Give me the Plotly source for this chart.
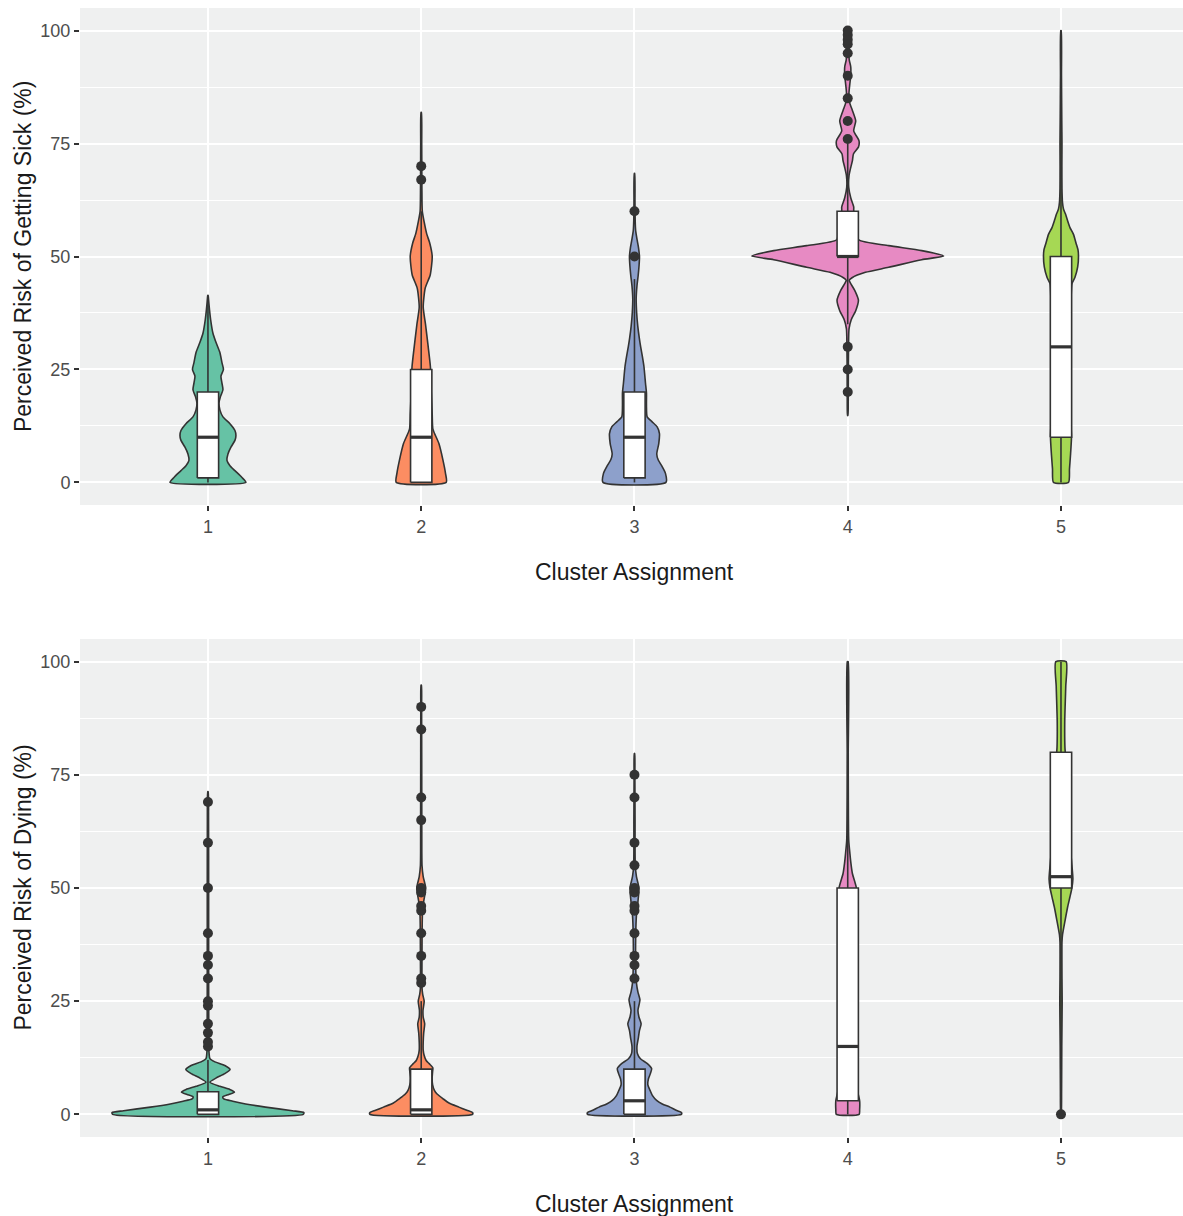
import plotly.graph_objects as go

# ---------------- data ----------------
clusters = [1, 2, 3, 4, 5]
cluster_labels = ["1", "2", "3", "4", "5"]
fill_colors = ["#66C2A5", "#FC8D62", "#8DA0CB", "#E78AC3", "#A6D854"]
y_ticks = [0, 25, 50, 75, 100]
y_minor = [12.5, 37.5, 62.5, 87.5]

# Panel 1: Perceived Risk of Getting Sick -- violin density profiles (value level, relative density)
sick_c1_y = [0, 1.1, 2.6, 3.7, 4.9, 6.3, 7.8, 9.3, 10.4, 11.5, 13, 14.5, 16, 17.5, 19, 20.5, 22, 23.5, 25, 26.5, 28.7, 31, 33, 36, 38.3, 40.5, 41.4]
sick_c1_d = [38, 34, 27, 22, 19, 20, 23, 27, 28, 27, 22, 15, 12, 11, 12.5, 15, 14, 13, 15.5, 14, 12, 8, 5, 2.7, 1.5, 0.6, 0.2]
sick_c2_y = [0, 2, 5, 8.6, 11.8, 15, 20, 25.6, 30, 35, 38.8, 43, 45.9, 50, 53, 55, 57.6, 60, 65, 70, 75, 81.9]
sick_c2_d = [25, 24.3, 21.7, 17.7, 11.7, 11, 10, 9.2, 7, 4.3, 2, 4, 9, 11, 8.5, 5.5, 3, 1.1, 0.7, 0.6, 0.5, 0.2]
sick_c3_y = [0, 2, 3.5, 5, 6.3, 8.6, 10.8, 12.3, 13.4, 14.5, 17, 19.8, 22, 25.6, 28, 30, 32, 34.6, 37.5, 40.6, 43.5, 45.8, 48, 50, 52, 53.5, 55.7, 58, 62, 68.4]
sick_c3_d = [31.5, 31, 27.7, 23.7, 22.3, 24.3, 25, 22.7, 17.7, 12.7, 12, 12, 11, 9.5, 7.8, 6.2, 4.8, 3.3, 2.2, 1.7, 2.5, 3.7, 4.6, 5, 4, 2.8, 1.2, 0.7, 0.5, 0.2]
sick_c4_y = [14.8, 18, 25, 30, 34, 36, 38, 40.3, 42.5, 44, 44.7, 45.3, 46.5, 47.6, 49.3, 50.1, 51.3, 52.4, 53.7, 56, 58, 60.2, 61, 63, 65.3, 67.9, 69.7, 71.2, 72.7, 74.2, 75.6, 77.8, 80, 82.3, 84, 86, 88, 90, 92, 93.5, 95, 97, 100]
sick_c4_d = [0.2, 0.5, 0.6, 0.8, 1.3, 3.5, 8, 10.7, 7, 3, 1.5, 4.3, 17.7, 41, 74, 96, 74, 41, 11, 9, 7.5, 6, 6, 3, 1, 1.3, 3, 4.7, 5.7, 10.7, 11.3, 6, 8, 4.7, 2, 1.2, 2, 3, 3, 1.5, 1.2, 1.5, 2]
sick_c5_y = [0, 3, 6, 10, 15, 20, 25, 30, 35, 40, 44, 45.4, 47.7, 50, 51.5, 53, 54.9, 56.4, 58, 59.3, 60.5, 62, 65, 70, 75, 80, 90, 100]
sick_c5_d = [7.5, 8.5, 9.5, 10.5, 9.5, 9, 9, 9, 9.5, 10, 11, 14, 16.7, 17.5, 17, 15, 12.5, 9, 6.5, 4.7, 2.5, 1.5, 1, 0.9, 1.0, 0.8, 0.5, 0.2]

# Panel 1 box statistics
sick_q1 = [1, 0, 1, 50, 10]
sick_median = [10, 10, 10, 50, 30]
sick_q3 = [20, 25, 20, 60, 50]
sick_lower = [0, 0, 0, 35, 0]
sick_upper = [41, 60, 45, 75, 100]
# Panel 1 outliers
sick_out_c1 = []
sick_out_c2 = [67, 70]
sick_out_c3 = [50, 60]
sick_out_c4 = [20, 25, 30, 76, 80, 85, 90, 95, 97, 98, 99, 100]
sick_out_c5 = []

# Panel 2: Perceived Risk of Dying -- violin density profiles
die_c1_y = [0, 0.4, 0.8, 1.6, 2.3, 2.9, 3.4, 3.9, 4.4, 4.9, 5.5, 6.2, 7.1, 8, 9, 9.9, 10.8, 11.6, 12.3, 14, 20, 30, 50, 65, 71.3]
die_c1_d = [96, 96.7, 85, 58, 38, 25, 16, 15, 21, 26.7, 22, 12, 2, 8, 17, 22.3, 17, 7, 2, 1.0, 0.8, 0.7, 0.7, 0.6, 0.2]
die_c2_y = [0, 0.4, 0.9, 1.6, 2.5, 3.5, 4.5, 5.3, 6.5, 8, 9.5, 10.3, 11.2, 11.9, 13, 14.2, 16, 18, 20, 21.5, 23, 25, 26.5, 28, 35, 44, 47, 50, 52.5, 55, 65, 80, 90, 94.8]
die_c2_d = [51.7, 51.7, 46, 38, 28, 21.7, 16, 13.3, 11.5, 11, 11.5, 11.7, 8, 5, 3, 2, 2, 2.5, 3.5, 2, 1.8, 3, 1.5, 0.8, 0.8, 1.2, 2.5, 4.5, 2, 0.8, 0.6, 0.5, 0.4, 0.2]
die_c3_y = [0, 0.4, 0.9, 1.6, 2.3, 3.1, 4.2, 5.3, 6.5, 7.8, 9, 10.1, 11.2, 12.3, 13.4, 15, 17, 18.5, 20, 21.5, 23, 25.3, 27, 29, 32, 40, 44, 47, 50, 52.5, 55, 65, 75, 79.7]
die_c3_d = [47.3, 47.3, 42, 35.7, 28, 22.3, 18, 15.7, 13.5, 14, 16, 17.3, 13, 6, 3, 2.5, 4, 5, 6.7, 4.5, 3.5, 5.5, 3.5, 2, 1.3, 1.3, 2, 3.5, 4.5, 2, 0.8, 0.6, 0.4, 0.2]
die_c4_y = [0, 1, 3, 5, 10, 20, 30, 40, 45, 50, 53.2, 55.5, 57.6, 60.6, 70, 80, 100]
die_c4_d = [11.5, 12, 12, 10, 7, 6, 6, 6.5, 8, 8.7, 4.7, 3.2, 2.2, 1.0, 0.6, 0.5, 0.4]
die_c5_y = [0, 5, 15, 25, 30, 38, 39.6, 42.9, 45.8, 48, 50, 52, 55, 60, 70, 78, 81, 87, 94.5, 100]
die_c5_d = [0.2, 0.6, 0.8, 1.2, 1.0, 1.0, 1.5, 4.2, 6.7, 9, 11, 12, 11, 9, 7, 5, 4, 3.8, 4.8, 5.2]

# Panel 2 box statistics
die_q1 = [0, 0, 0, 3, 50]
die_median = [1, 1, 3, 15, 52.5]
die_q3 = [5, 10, 10, 50, 80]
die_lower = [0, 0, 0, 0, 10]
die_upper = [12, 25, 25, 100, 100]
# Panel 2 outliers
die_out_c1 = [15, 16, 18, 20, 24, 25, 30, 33, 35, 40, 50, 60, 69]
die_out_c2 = [29, 30, 35, 40, 45, 46, 49, 50, 65, 70, 85, 90]
die_out_c3 = [30, 33, 35, 40, 45, 46, 49, 50, 55, 60, 70, 75]
die_out_c4 = []
die_out_c5 = [0]

# ---------------- styling ----------------
FONT = "Liberation Sans, Arial, Helvetica, sans-serif"
OUTLINE = "#333333"
PANEL_BG = "#EFF0F0"
VIOLIN_HALF = 0.45   # max half width of a violin (x units)
BOX_WIDTH = 0.1
LW = 1.6

panels = [
    dict(xa="x", ya="y",
         profiles=[(sick_c1_y, sick_c1_d), (sick_c2_y, sick_c2_d), (sick_c3_y, sick_c3_d),
                   (sick_c4_y, sick_c4_d), (sick_c5_y, sick_c5_d)],
         q1=sick_q1, med=sick_median, q3=sick_q3, lo=sick_lower, hi=sick_upper,
         outliers=[sick_out_c1, sick_out_c2, sick_out_c3, sick_out_c4, sick_out_c5]),
    dict(xa="x2", ya="y2",
         profiles=[(die_c1_y, die_c1_d), (die_c2_y, die_c2_d), (die_c3_y, die_c3_d),
                   (die_c4_y, die_c4_d), (die_c5_y, die_c5_d)],
         q1=die_q1, med=die_median, q3=die_q3, lo=die_lower, hi=die_upper,
         outliers=[die_out_c1, die_out_c2, die_out_c3, die_out_c4, die_out_c5]),
]

fig = go.Figure()

for p in panels:
    dmax = max(max(d) for _, d in p["profiles"])
    # violins
    for c, col, (ys, ds) in zip(clusters, fill_colors, p["profiles"]):
        half = [VIOLIN_HALF * d / dmax for d in ds]
        xs = [c + h for h in half] + [c - h for h in reversed(half)] + [c + half[0]]
        yy = list(ys) + list(reversed(ys)) + [ys[0]]
        fig.add_trace(go.Scatter(
            x=xs, y=yy, xaxis=p["xa"], yaxis=p["ya"], mode="lines",
            fill="toself", fillcolor=col,
            line=dict(color=OUTLINE, width=LW, shape="spline", smoothing=0.6),
            hoverinfo="skip", showlegend=False))
    # whiskers
    wx, wy = [], []
    for c, lo, q1, q3, hi in zip(clusters, p["lo"], p["q1"], p["q3"], p["hi"]):
        wx += [c, c, None, c, c, None]
        wy += [lo, q1, None, q3, hi, None]
    fig.add_trace(go.Scatter(x=wx, y=wy, xaxis=p["xa"], yaxis=p["ya"], mode="lines",
                             line=dict(color=OUTLINE, width=LW), hoverinfo="skip",
                             showlegend=False))
    # boxes (white, drawn over the violins)
    for c, q1, q3 in zip(clusters, p["q1"], p["q3"]):
        l, r = c - BOX_WIDTH / 2, c + BOX_WIDTH / 2
        fig.add_trace(go.Scatter(x=[l, r, r, l, l], y=[q1, q1, q3, q3, q1],
                                 xaxis=p["xa"], yaxis=p["ya"], mode="lines",
                                 fill="toself", fillcolor="white",
                                 line=dict(color=OUTLINE, width=LW),
                                 hoverinfo="skip", showlegend=False))
    # thick median lines
    mx, my = [], []
    for c, m in zip(clusters, p["med"]):
        mx += [c - BOX_WIDTH / 2, c + BOX_WIDTH / 2, None]
        my += [m, m, None]
    fig.add_trace(go.Scatter(x=mx, y=my, xaxis=p["xa"], yaxis=p["ya"], mode="lines",
                             line=dict(color=OUTLINE, width=3.2), hoverinfo="skip",
                             showlegend=False))
    # outliers
    ox, oy = [], []
    for c, outs in zip(clusters, p["outliers"]):
        ox += [c] * len(outs)
        oy += list(outs)
    fig.add_trace(go.Scatter(x=ox, y=oy, xaxis=p["xa"], yaxis=p["ya"], mode="markers",
                             marker=dict(color=OUTLINE, size=10), hoverinfo="skip",
                             showlegend=False))

# The page body margin is removed in post_script, so the figure fills the window.
PAGE_OFF = 0
W, H = 1183 - PAGE_OFF, 1216 - PAGE_OFF
# target positions in window pixels
PANEL_LEFT, PANEL_RIGHT = 80.4, 1183
TOP_PANEL = (8, 505)
BOT_PANEL = (639, 1137)

ML = PANEL_LEFT - PAGE_OFF
MR = 0
MT = TOP_PANEL[0] - PAGE_OFF
MB = 1216 - BOT_PANEL[1]
plot_w = W - ML - MR
plot_h = H - MT - MB
unit_px = 213.18
x_range = [0.4, 0.4 + plot_w / unit_px]


def py_to_paper(py):
    return (BOT_PANEL[1] - py) / plot_h


def px_to_paper(px):
    return (px - PANEL_LEFT) / plot_w


axis_common_x = dict(range=x_range, tickvals=clusters, ticktext=cluster_labels,
                     ticks="outside", ticklen=5, tickwidth=1.5, tickcolor=OUTLINE,
                     tickfont=dict(family=FONT, size=18, color="#4D4D4D"),
                     showgrid=True, gridcolor="white", gridwidth=1.6,
                     zeroline=False, showline=False)
axis_common_y = dict(range=[-5, 105], tickvals=y_ticks,
                     ticks="outside", ticklen=5, tickwidth=1.5, tickcolor=OUTLINE,
                     tickfont=dict(family=FONT, size=18, color="#4D4D4D"),
                     showgrid=True, gridcolor="white", gridwidth=1.6,
                     minor=dict(tickvals=y_minor, showgrid=True, gridcolor="white",
                                gridwidth=0.8, ticks=""),
                     zeroline=False, showline=False)

top_dom = [py_to_paper(TOP_PANEL[1]), 1]
bot_dom = [0, py_to_paper(BOT_PANEL[0])]

fig.update_layout(
    width=W, height=H,
    margin=dict(l=ML, r=MR, t=MT, b=MB, pad=0),
    paper_bgcolor="white", plot_bgcolor=PANEL_BG,
    font=dict(family=FONT),
    xaxis=dict(**axis_common_x, anchor="y", domain=[0, 1]),
    yaxis=dict(**axis_common_y, anchor="x", domain=top_dom),
    xaxis2=dict(**axis_common_x, anchor="y2", domain=[0, 1]),
    yaxis2=dict(**axis_common_y, anchor="x2", domain=bot_dom),
    showlegend=False,
)

title_font = dict(family=FONT, size=23, color="#1A1A1A")
xc = px_to_paper(634.7)
ytitle_x = px_to_paper(23)
fig.add_annotation(text="Cluster Assignment", xref="paper", yref="paper",
                   x=xc, y=py_to_paper(572), xanchor="center", yanchor="middle",
                   showarrow=False, font=title_font)
fig.add_annotation(text="Cluster Assignment", xref="paper", yref="paper",
                   x=xc, y=py_to_paper(1204), xanchor="center", yanchor="middle",
                   showarrow=False, font=title_font)
fig.add_annotation(text="Perceived Risk of Getting Sick (%)", xref="paper", yref="y domain",
                   x=ytitle_x, y=0.5, xanchor="center", yanchor="middle", textangle=-90,
                   showarrow=False, font=title_font)
fig.add_annotation(text="Perceived Risk of Dying (%)", xref="paper", yref="y2 domain",
                   x=ytitle_x, y=0.5, xanchor="center", yanchor="middle", textangle=-90,
                   showarrow=False, font=title_font)

# remove the default page margin and scrollbars so the figure fills the window
fig.write_html(
    "out.html",
    config={"displayModeBar": False},
    post_script="document.body.style.margin='0';"
                "document.documentElement.style.overflow='hidden';"
                "document.body.style.overflow='hidden';",
)
